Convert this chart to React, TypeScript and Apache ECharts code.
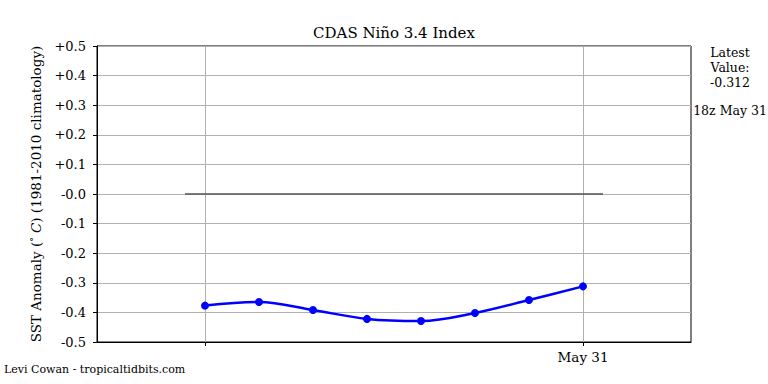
import React, { useEffect, useRef } from "react";
import * as echarts from "echarts";

// Axis days (padding days either side of the data, as in the reference)
const axisDays = ["May 22", "May 23", "May 24", "May 25", "May 26", "May 27", "May 28", "May 29", "May 30", "May 31", "Jun 1", "Jun 2"];
// Observed dates and Niño 3.4 anomalies
const obsDates = ["May 24", "May 25", "May 26", "May 27", "May 28", "May 29", "May 30", "May 31"];
const obsValues = [-0.377, -0.365, -0.392, -0.422, -0.429, -0.402, -0.358, -0.312];
// Days that carry a tick / grid line, and labelled ticks
const tickDays = ["May 24", "May 31"];
const labelDays = ["May 31"];
// Zero reference line extent (in day offsets from the first axis day)
const zeroLineX = [1.63, 9.37];
const zeroLineY = [0, 0];

const FONT = "'DejaVu Serif', 'Liberation Serif', serif";

export default function App() {
  const ref = useRef<HTMLDivElement>(null);
  useEffect(() => {
    if (!ref.current) return;
    const chart = echarts.init(ref.current, undefined, { renderer: "svg" });
    const seriesData = axisDays.map((d) => {
      const i = obsDates.indexOf(d);
      return i >= 0 ? obsValues[i] : null;
    });
    const tickIdx = (i: number) => tickDays.indexOf(axisDays[i]) >= 0;
    chart.setOption({
      animation: false,
      backgroundColor: "#fff",
      textStyle: { fontFamily: FONT },
      grid: {
        left: 97,
        right: 77,
        top: 46,
        bottom: 42,
        show: true,
        borderColor: "#000",
        borderWidth: 1,
        containLabel: false,
      },
      graphic: [
        {
          type: "text",
          x: 394,
          y: 25,
          style: { text: "CDAS Niño 3.4 Index", fontSize: 15, fontFamily: FONT, fill: "#000", textAlign: "center" },
        },
        {
          type: "text",
          x: 730,
          y: 45,
          style: {
            text: "Latest\nValue:\n" + obsValues[obsValues.length - 1].toFixed(3),
            fontSize: 12.5,
            fontFamily: FONT,
            lineHeight: 15,
            fill: "#000",
            textAlign: "center",
          },
        },
        {
          type: "text",
          x: 730,
          y: 104,
          style: { text: "18z " + obsDates[obsDates.length - 1], fontSize: 12.5, fontFamily: FONT, fill: "#000", textAlign: "center" },
        },
        {
          type: "text",
          x: 4,
          y: 364,
          style: { text: "Levi Cowan - tropicaltidbits.com", fontSize: 11, fontFamily: FONT, fill: "#000" },
        },
      ],
      xAxis: [
        {
          type: "category",
          data: axisDays,
          boundaryGap: false,
          axisLine: { show: true, onZero: false, lineStyle: { color: "#000", width: 1 } },
          axisTick: { show: true, length: 4, interval: (i: number) => tickIdx(i), lineStyle: { color: "#000" } },
          axisLabel: {
            interval: (i: number) => tickIdx(i),
            formatter: (v: string) => (labelDays.indexOf(v) >= 0 ? v : ""),
            color: "#000",
            fontSize: 13.5,
            fontFamily: FONT,
            margin: 8,
          },
          splitLine: { show: true, interval: (i: number) => tickIdx(i), lineStyle: { color: "#b0b0b0", width: 1 } },
        },
        {
          type: "value",
          min: 0,
          max: axisDays.length - 1,
          show: false,
          axisLine: { onZero: false },
          splitLine: { show: false },
        },
      ],
      yAxis: {
        type: "value",
        min: -0.5,
        max: 0.5,
        interval: 0.1,
        name: "{n|SST Anomaly (}{s|°}{i| C}{n|) (1981-2010 climatology)}",
        nameLocation: "middle",
        nameRotate: 90,
        nameGap: 54,
        nameTextStyle: {
          rich: {
            n: { fontSize: 13.5, fontFamily: FONT, color: "#000" },
            s: { fontSize: 9, fontFamily: FONT, color: "#000", verticalAlign: "top" },
            i: { fontSize: 13.5, fontFamily: FONT, fontStyle: "italic", color: "#000" },
          },
        },
        axisLine: { show: true, onZero: false, lineStyle: { color: "#000", width: 1 } },
        axisTick: { show: true, length: 4, lineStyle: { color: "#000" } },
        axisLabel: {
          color: "#000",
          fontSize: 13,
          fontFamily: FONT,
          margin: 11,
          formatter: (v: number) => {
            if (Math.abs(v) < 1e-9) return "-0.0";
            return v > 0 ? "+" + v.toFixed(1) : v.toFixed(1);
          },
        },
        splitLine: { show: true, lineStyle: { color: "#b0b0b0", width: 1 } },
      },
      series: [
        {
          type: "line",
          xAxisIndex: 1,
          yAxisIndex: 0,
          data: zeroLineX.map((x, i) => [x, zeroLineY[i]]),
          symbol: "none",
          lineStyle: { color: "#555", width: 1.5 },
          z: 2,
          silent: true,
        },
        {
          type: "line",
          xAxisIndex: 0,
          yAxisIndex: 0,
          data: seriesData,
          smooth: 0.35,
          connectNulls: false,
          symbol: "circle",
          symbolSize: 8,
          itemStyle: { color: "#0000ff" },
          lineStyle: { color: "#0000ff", width: 2.5 },
          z: 3,
        },
      ],
    });
    return () => chart.dispose();
  }, []);
  return <div ref={ref} style={{ width: 768, height: 384, position: "absolute", left: 0, top: 0 }} />;
}
